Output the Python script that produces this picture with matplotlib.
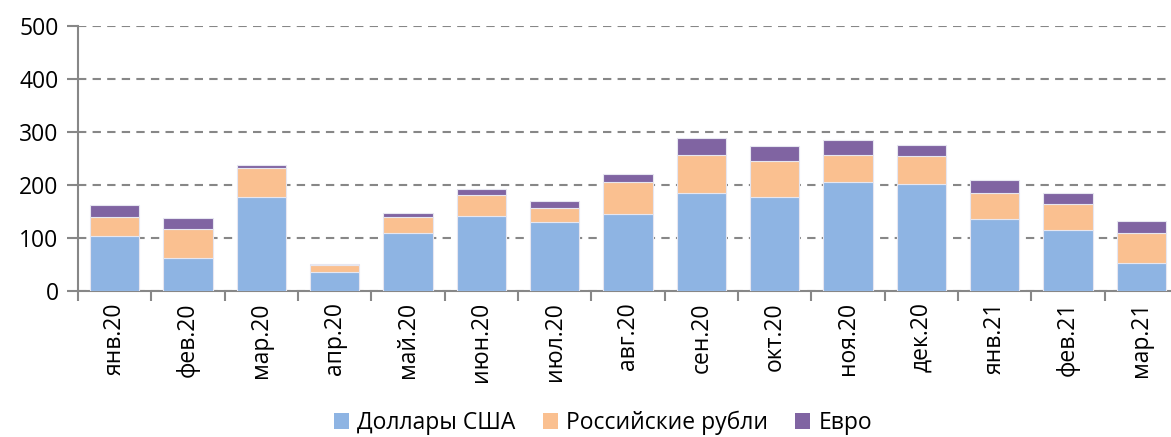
import matplotlib
matplotlib.use('Agg')
import matplotlib.pyplot as plt
import numpy as np
from matplotlib.patches import Patch

plt.rcParams['font.family'] = ['Open Sans', 'DejaVu Sans']

# Data
months = ['янв.20', 'фев.20', 'мар.20', 'апр.20', 'май.20', 'июн.20', 'июл.20',
          'авг.20', 'сен.20', 'окт.20', 'ноя.20', 'дек.20', 'янв.21', 'фев.21', 'мар.21']
usd = [104, 62, 178, 36.5, 109, 142, 129.5, 146, 184, 178, 205, 202.5, 135, 116, 52]
rub = [35.6, 55.6, 54.7, 12.5, 30, 38.5, 27.5, 59, 72, 67, 51, 52.5, 50, 47.5, 57]
eur = [23.4, 19.4, 5, 2, 7.5, 12.5, 13, 15, 32.7, 28, 28, 20, 24, 22, 23]
series_names = ['Доллары США', 'Российские рубли', 'Евро']
colors = ['#8EB4E3', '#FAC090', '#8064A2']

fig = plt.figure(figsize=(11.71, 4.37), dpi=100)
ax = fig.add_axes([78 / 1171, 1 - 291 / 437, 1100 / 1171, 265 / 437])

x = np.arange(len(months))
bottom = np.zeros(len(months))
for vals, col in zip([usd, rub, eur], colors):
    ax.bar(x, vals, 0.67, bottom=bottom, color=col, edgecolor='#E6E6F0',
           linewidth=0.8, zorder=3)
    bottom += np.array(vals)

ax.set_xlim(-0.5, len(months) - 0.5)
ax.set_ylim(0, 500)
ax.set_yticks(range(0, 501, 100))
ax.yaxis.grid(True, linestyle=(0, (4, 3)), color='#878787', linewidth=1.5, zorder=0)

ax.set_xticks(x)
ax.set_xticklabels(months, rotation=90, fontsize=16.5)
ax.set_xticks(np.arange(-0.5, len(months), 1), minor=True)
ax.tick_params(axis='x', which='major', length=0, pad=8)
ax.tick_params(axis='x', which='minor', length=7, width=1.5, color='#878787')
ax.tick_params(axis='y', length=8, width=1.5, color='#878787', labelsize=16.5, pad=6)

for s in ['top', 'right']:
    ax.spines[s].set_visible(False)
for s in ['left', 'bottom']:
    ax.spines[s].set_color('#878787')
    ax.spines[s].set_linewidth(1.5)

handles = [Patch(facecolor=c, edgecolor='none') for c in colors]
fig.legend(handles, series_names, loc='center', bbox_to_anchor=(0.515, 0.032), ncol=3,
           frameon=False, fontsize=16.5, handlelength=0.65, handleheight=0.65,
           handletextpad=0.35, columnspacing=1.2)

fig.savefig('out.png', dpi=100)
